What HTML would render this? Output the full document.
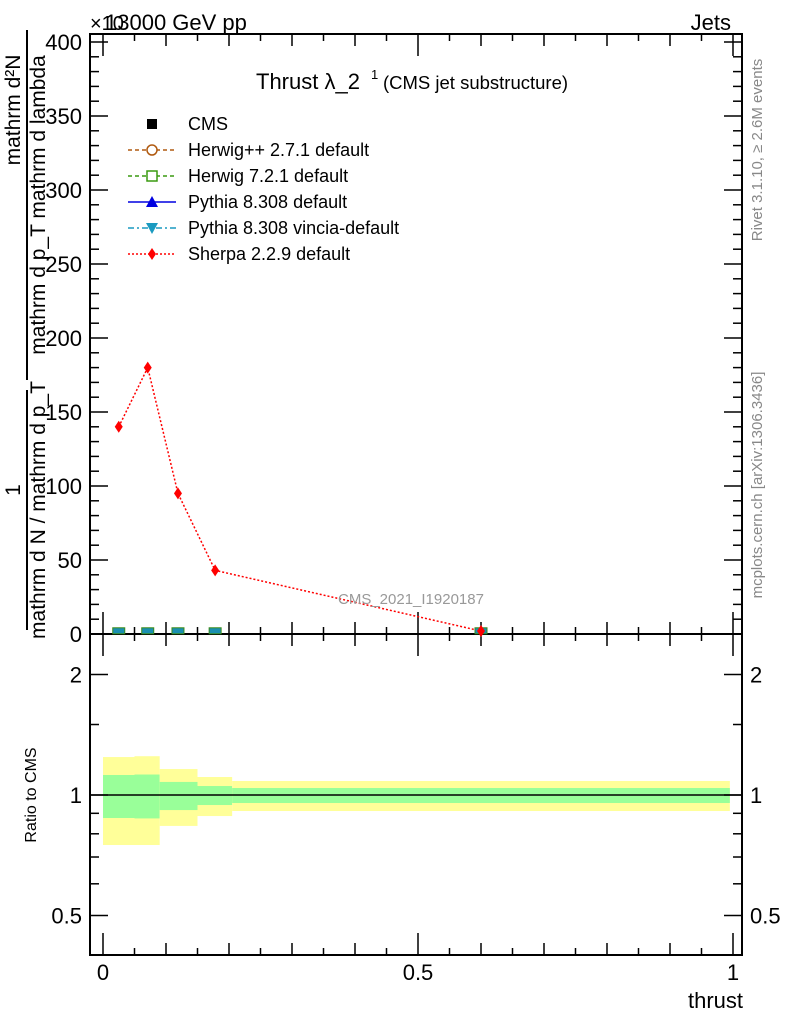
<!DOCTYPE html>
<html><head><meta charset="utf-8"><style>
body{margin:0;background:#fff;}
svg{display:block;font-family:"Liberation Sans",sans-serif;}
</style></head><body>
<svg id="c" width="786" height="1024" xmlns="http://www.w3.org/2000/svg"></svg>
<script>
const xCenters=[0.025,0.071,0.119,0.178,0.6];
const sherpaVals=[140,180,95,43,2];
const cmsVals=[1.5,1.5,1.5,1.5,1.5];
const binEdges=[0,0.05,0.09,0.15,0.205,0.995];
const yellowLo=[0.75,0.75,0.837,0.886,0.912];
const yellowHi=[1.244,1.25,1.161,1.109,1.084];
const greenLo=[0.876,0.874,0.917,0.944,0.955];
const greenHi=[1.122,1.125,1.078,1.053,1.041];
const mainTicks=[0,50,100,150,200,250,300,350,400];
const ratioTicks=[0.5,1,2];
const xTicks=[0,0.5,1];

const svg=document.getElementById('c');
const NS='http://www.w3.org/2000/svg';
function el(t,a,p){const e=document.createElementNS(NS,t);for(const k in a)e.setAttribute(k,a[k]);(p||svg).appendChild(e);return e;}
const L=90,R=742,T=34,MB=634,RB=955;
const sx=v=>103+v*630;
const sy=v=>634-v*1.48;
const ry=v=>795-Math.log2(v)*120.5;

const bands=el('g',{});


for(let i=0;i<yellowLo.length;i++){
  const x0=sx(binEdges[i]),x1=sx(binEdges[i+1]);
  const y=el('rect',{x:x0,y:ry(yellowHi[i]),width:x1-x0,height:ry(yellowLo[i])-ry(yellowHi[i]),fill:'#ffff99'},bands);
  
  
  const g=el('rect',{x:x0,y:ry(greenHi[i]),width:x1-x0,height:ry(greenLo[i])-ry(greenHi[i]),fill:'#99ff99'},bands);
  
  
}
el('line',{x1:L,x2:R,y1:ry(1),y2:ry(1),stroke:'#000','stroke-width':1.5});

el('rect',{x:L,y:T,width:R-L,height:MB-T,fill:'none',stroke:'#000','stroke-width':2});
el('rect',{x:L,y:MB,width:R-L,height:RB-MB,fill:'none',stroke:'#000','stroke-width':2});

for(let v=0;v<=400;v+=10){
  const len=v%50===0?18:9;
  el('line',{x1:L,x2:L+len,y1:sy(v),y2:sy(v),stroke:'#000','stroke-width':1.5});
  el('line',{x1:R,x2:R-len,y1:sy(v),y2:sy(v),stroke:'#000','stroke-width':1.5});
}
mainTicks.forEach(v=>{const t=el('text',{x:82,y:sy(v)+8,'text-anchor':'end','font-size':22});t.textContent=v;
});
for(let k=0;k<=20;k++){
  const v=k*0.05,x=sx(v);
  const len=k%10===0?22:(k%2===0?12:7);
  el('line',{x1:x,x2:x,y1:MB,y2:MB-len,stroke:'#000','stroke-width':1.5});
  el('line',{x1:x,x2:x,y1:T,y2:T+len,stroke:'#000','stroke-width':1.5});
  el('line',{x1:x,x2:x,y1:RB,y2:RB-len,stroke:'#000','stroke-width':1.5});
  el('line',{x1:x,x2:x,y1:MB,y2:MB+len,stroke:'#000','stroke-width':1.5});
}
xTicks.forEach(v=>{const t=el('text',{x:sx(v),y:980,'text-anchor':'middle','font-size':22});t.textContent=v;
});
[0.5,0.6,0.7,0.8,0.9,1,1.5,2].forEach(v=>{
  const len=[0.5,1,2].includes(v)?18:9;
  el('line',{x1:L,x2:L+len,y1:ry(v),y2:ry(v),stroke:'#000','stroke-width':1.5});
  el('line',{x1:R,x2:R-len,y1:ry(v),y2:ry(v),stroke:'#000','stroke-width':1.5});
});
ratioTicks.forEach(v=>{
  const a=el('text',{x:82,y:ry(v)+8,'text-anchor':'end','font-size':22});a.textContent=v;
  
  const b=el('text',{x:750,y:ry(v)+8,'font-size':22});b.textContent=v;
  
});

const pts=xCenters.map((x,i)=>sx(x)+','+sy(sherpaVals[i])).join(' ');
const sl=el('polyline',{points:pts,fill:'none',stroke:'#f00','stroke-width':1.5,'stroke-dasharray':'2,2'});


xCenters.forEach((x,i)=>{
  const cx=sx(x),cy=sy(sherpaVals[i]);
  const m=el('rect',{x:cx-6,y:sy(cmsVals[i])-4,width:12,height:6,fill:'#1a8fb0',stroke:'#3a8a1a'});
  
  
  const d=el('polygon',{points:`${cx},${cy-6} ${cx+4},${cy} ${cx},${cy+6} ${cx-4},${cy}`,fill:'#f00'});
  
  
});

function txt(x,y,s,size,attrs,name){const t=el('text',Object.assign({x:x,y:y,'font-size':size},attrs||{}));t.textContent=s;
return t;}
txt(90,30,'×10',20,{},'y-multiplier');
txt(105,30,'13000 GeV pp',22,{},'header-left');
txt(731,30,'Jets',22,{'text-anchor':'end'},'header-right');
txt(256,89,'Thrust λ_2',22,{},'plot-title');
txt(371,79,'1',13,{},'title-sup');
txt(383,89,'(CMS jet substructure)',18.5,{},'title-sub');
txt(338,604,'CMS_2021_I1920187',15,{fill:'#999'},'analysis-id');
txt(743,1008,'thrust',22,{'text-anchor':'end'},'x-axis-title');
txt(36,795,'Ratio to CMS',16,{'text-anchor':'middle',transform:'rotate(-90 36 795)'},'ratio-axis-title');
txt(762,150,'Rivet 3.1.10, ≥ 2.6M events',15,{'text-anchor':'middle',fill:'#888',transform:'rotate(-90 762 150)'},'rivet-label');
txt(762,485,'mcplots.cern.ch [arXiv:1306.3436]',15,{'text-anchor':'middle',fill:'#888',transform:'rotate(-90 762 485)'},'mcplots-label');
txt(20,110,'mathrm d²N',21,{'text-anchor':'middle',transform:'rotate(-90 20 110)'},'y-title-num2');
txt(20,490,'1',21,{'text-anchor':'middle',transform:'rotate(-90 20 490)'},'y-title-num1');
el('line',{x1:27,x2:27,y1:30,y2:380,stroke:'#000','stroke-width':2});
el('line',{x1:27,x2:27,y1:390,y2:630,stroke:'#000','stroke-width':2});
txt(45,205,'mathrm d p_T mathrm d lambda',21,{'text-anchor':'middle',transform:'rotate(-90 45 205)'},'y-title-den2');
txt(45,510,'mathrm d N / mathrm d p_T',21,{'text-anchor':'middle',transform:'rotate(-90 45 510)'},'y-title-den1');

const lg=el('g',{});


const names=['CMS','Herwig++ 2.7.1 default','Herwig 7.2.1 default','Pythia 8.308 default','Pythia 8.308 vincia-default','Sherpa 2.2.9 default'];
const cols=['#000','#b05a10','#3a9a10','#0000e0','#1a9ac0','#f00'];
const dash=['','4,3','4,3','','6,3,2,3','2,2'];
names.forEach((n,i)=>{
  const y=124+i*26;
  if(i>0) el('line',{x1:128,x2:176,y1:y,y2:y,stroke:cols[i],'stroke-width':1.5,'stroke-dasharray':dash[i]},lg);
  const c=152;
  if(i===0) el('rect',{x:c-5,y:y-5,width:10,height:10,fill:'#000'},lg);
  if(i===1) el('circle',{cx:c,cy:y,r:5,fill:'#fff',stroke:cols[i],'stroke-width':1.5},lg);
  if(i===2) el('rect',{x:c-5,y:y-5,width:10,height:10,fill:'#fff',stroke:cols[i],'stroke-width':1.5},lg);
  if(i===3) el('polygon',{points:`${c},${y-6} ${c+6},${y+5} ${c-6},${y+5}`,fill:cols[i]},lg);
  if(i===4) el('polygon',{points:`${c},${y+6} ${c+6},${y-5} ${c-6},${y-5}`,fill:cols[i]},lg);
  if(i===5) el('polygon',{points:`${c},${y-6} ${c+4},${y} ${c},${y+6} ${c-4},${y}`,fill:cols[i]},lg);
  const t=el('text',{x:188,y:y+6,'font-size':18},lg);t.textContent=n;
  
  
});
</script>
</body></html>
